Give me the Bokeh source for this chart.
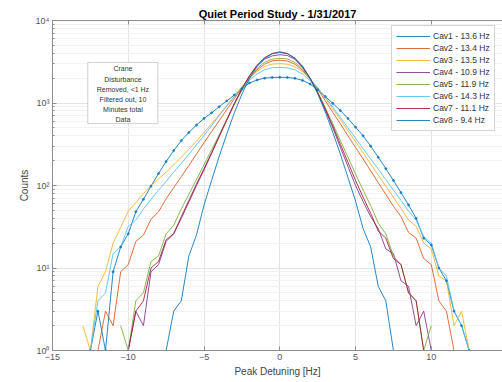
import numpy as np
from bokeh.plotting import figure
from bokeh.models import (ColumnDataSource, FixedTicker, LogTicker, LinearAxis, Legend,
                          LegendItem, Label, BoxAnnotation, Range1d, CustomJSTickFormatter)
from bokeh.embed import file_html
from bokeh.resources import INLINE

nan = float("nan")

# bin centres of the histogram [Hz]
detuning_hz = [-13.0, -12.5, -12.0, -11.5, -11.0, -10.5, -10.0, -9.5, -9.0, -8.5, -8.0,
               -7.5, -7.0, -6.5, -6.0, -5.5, -5.0, -4.5, -4.0, -3.5, -3.0, -2.5, -2.0,
               -1.5, -1.0, -0.5, 0.0, 0.5, 1.0, 1.5, 2.0, 2.5, 3.0, 3.5, 4.0, 4.5, 5.0,
               5.5, 6.0, 6.5, 7.0, 7.5, 8.0, 8.5, 9.0, 9.5, 10.0, 10.5, 11.0, 11.5, 12.0,
               12.5, 13.0]

# counts per bin (nan = empty bin)
cav1 = [nan] + [1, 3, 1, 9, 18, 26, 48, 68, 98, 140, 195, 265, 350, 440, 540, 650, 760, 900,
                1060, 1250, 1480, 1750, 1900, 2000, 2040] + [2050] + \
       [2040, 1990, 1880, 1700, 1450, 1200, 990, 810, 650, 510, 400, 300, 220, 160, 115, 82,
        58, 40, 23, 19, 10, 7, 3, 2, 1] + [nan]
cav2 = [nan, nan] + [1, 3, 2, 9, 11, 21, 25, 39, 48, 69, 94, 128, 175, 240, 330, 450, 610,
                     830, 1130, 1530, 1990, 2520, 2960, 3240] + [3300] + \
       [3230, 2950, 2500, 1950, 1480, 1070, 770, 560, 400, 290, 210, 150, 108, 78, 56, 42, 27,
        23, 13, 11, 4, 3, 1] + [nan, nan, nan]
cav3 = [2, 1, 6, 9, 20, 31, 49, 62, 80, 100, 120, 145, 178, 220, 275, 345, 440, 560, 720, 930,
        1210, 1580, 2000, 2420, 2760, 2960] + [3000] + \
       [2950, 2740, 2400, 1980, 1540, 1150, 850, 630, 460, 340, 250, 182, 133, 98, 72, 53, 38,
        32, 20, 17, 8, 7, 2, 3, 1] + [nan]
cav4 = [nan] * 6 + [1, 3, 2, 9, 11, 21, 26, 42, 66, 104, 160, 250, 400, 630, 990, 1490, 2120,
                    2800, 3400, 3720] + [3850] + \
       [3760, 3380, 2700, 1980, 1330, 830, 500, 290, 170, 100, 64, 42, 30, 17, 15, 7, 6, 2, 3,
        1] + [nan] * 6
cav5 = [nan] * 5 + [2, 1, 4, 5, 12, 14, 26, 33, 52, 78, 118, 178, 270, 410, 630, 960, 1420,
                    2010, 2620, 3120, 3400] + [3480] + \
       [3420, 3100, 2600, 1960, 1360, 880, 560, 350, 220, 138, 88, 57, 35, 26, 14, 11, 5, 4, 1,
        2] + [nan] * 6
cav6 = [nan] + [1, 4, 5, 15, 18, 32, 38, 52, 68, 88, 112, 145, 185, 240, 310, 405, 530, 700,
                920, 1200, 1540, 1900, 2250, 2530, 2680] + [2700] + \
       [2670, 2520, 2240, 1880, 1520, 1170, 890, 670, 500, 375, 280, 210, 158, 118, 88, 66, 49,
        38, 24, 20, 10, 8, 3, 2, 1, 1]
cav7 = [nan] * 6 + [1, 3, 4, 10, 12, 22, 26, 40, 63, 100, 155, 245, 389, 617, 977, 1480, 2140,
                    2880, 3550, 3980] + [4170] + \
       [3980, 3470, 2750, 2000, 1350, 851, 525, 316, 191, 115, 72, 46, 28, 23, 13, 11, 5, 4, 1,
        1] + [nan] * 6
cav8 = [nan] * 11 + [1, 3, 4, 14, 25, 58, 115, 225, 420, 760, 1280, 1990, 2780, 3480, 3940] + \
       [4100] + [3950, 3500, 2800, 2000, 1300, 780, 440, 240, 125, 65, 30, 18, 6, 4, 1] + [nan] * 11

labels = ["Cav1 - 13.6 Hz", "Cav2 - 13.4 Hz", "Cav3 - 13.5 Hz", "Cav4 - 10.9 Hz",
          "Cav5 - 11.9 Hz", "Cav6 - 14.3 Hz", "Cav7 - 11.1 Hz", "Cav8 - 9.4 Hz"]
colors = ["#0072BD", "#D95319", "#EDB120", "#7E2F8E", "#77AC30", "#4DBEEE", "#A2142F", "#0072BD"]
series = [cav1, cav2, cav3, cav4, cav5, cav6, cav7, cav8]

note_lines = ["Crane", "Disturbance", "Removed, <1 Hz", "Filtered out, 10", "Minutes total", "Data"]

FONT = "Liberation Sans"

p = figure(width=502, height=382, output_backend="svg", toolbar_location=None,
           y_axis_type="log", x_range=Range1d(-15, 14.7), y_range=Range1d(1, 10000),
           min_border_left=52, min_border_right=0, min_border_top=20, min_border_bottom=32,
           x_axis_label="Peak Detuning [Hz]", y_axis_label="Counts")
p.outline_line_color = None
p.background_fill_color = "white"
p.border_fill_color = "white"

p.title.text = "Quiet Period Study - 1/31/2017"
p.title.align = "center"
p.title.text_font = FONT
p.title.text_font_size = "11px"
p.title.text_font_style = "bold"
p.title.text_color = "#000000"
p.title.standoff = 2
p.title.offset = 0

items = []
for name, col, cnt in zip(labels, colors, series):
    src = ColumnDataSource(dict(x=detuning_hz, y=np.array(cnt, dtype=float)))
    r = p.line("x", "y", source=src, color=col, line_width=1, line_alpha=0.85)
    items.append(LegendItem(label=name, renderers=[r]))
src1 = ColumnDataSource(dict(x=detuning_hz, y=np.array(cav1, dtype=float)))
p.scatter("x", "y", source=src1, size=2, color=colors[0], alpha=0.7)

legend = Legend(items=items, location=(339, 219))
legend.label_text_font = FONT
legend.label_text_font_size = "8.5px"
legend.label_text_color = "#333333"
legend.label_height = 12
legend.glyph_height = 12
legend.glyph_width = 34
legend.label_standoff = 3
legend.spacing = 0
legend.padding = 4
legend.margin = 0
legend.border_line_color = "#aaaaaa"
legend.background_fill_alpha = 1
p.add_layout(legend)

xa = p.xaxis[0]
xa.ticker = FixedTicker(ticks=[-15, -10, -5, 0, 5, 10, 15])
ya = p.yaxis[0]
ya.ticker = LogTicker(num_minor_ticks=10)
ya.formatter = CustomJSTickFormatter(code="""
const e = Math.round(Math.log10(tick));
const sup = {0:'\u2070',1:'\u00b9',2:'\u00b2',3:'\u00b3',4:'\u2074'};
return '10' + sup[e];
""")
for ax in (xa, ya):
    ax.axis_line_color = "#8c8c8c"
    ax.major_tick_line_color = "#8c8c8c"
    ax.minor_tick_line_color = "#8c8c8c"
    ax.major_tick_in = 4
    ax.major_tick_out = 0
    ax.minor_tick_in = 2
    ax.minor_tick_out = 0
    ax.major_label_text_font = FONT
    ax.major_label_text_font_size = "9px"
    ax.major_label_text_color = "#555555"
    ax.axis_label_text_font = FONT
    ax.axis_label_text_font_size = "10px"
    ax.axis_label_text_font_style = "normal"
    ax.axis_label_text_color = "#444444"
    ax.major_label_standoff = 3
    ax.axis_label_standoff = 3
xa.minor_tick_line_color = None

# top border with inward ticks (no labels)
top = LinearAxis(ticker=FixedTicker(ticks=[-15, -10, -5, 0, 5, 10, 15]),
                 axis_line_color="#8c8c8c", major_tick_line_color="#8c8c8c", major_tick_in=4,
                 major_tick_out=0, minor_tick_line_color=None, major_label_text_color=None,
                 major_label_standoff=0)
p.add_layout(top, "above")

p.xgrid.grid_line_color = "#e4e4e4"
p.ygrid.grid_line_color = "#e4e4e4"
p.ygrid.minor_grid_line_color = "#f2f2f2"

box = BoxAnnotation(left=-12.67, right=-8.05, top=3100, bottom=563, fill_color="white",
                    fill_alpha=1, line_color="#666666", line_width=1)
p.add_layout(box)
note_y = [2618, 1927, 1458, 1103, 834, 631]
for txt, yy in zip(note_lines, note_y):
    p.add_layout(Label(x=-10.35, y=yy, text=txt, text_align="center", text_baseline="middle",
                       text_font=FONT, text_font_size="7px", text_color="#333333"))

open("out.html", "w").write(file_html(p, INLINE))
